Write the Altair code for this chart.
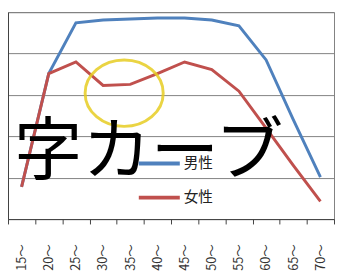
import altair as alt
import pandas as pd

ages = ["15～", "20～", "25～", "30～", "35～", "40～", "45～", "50～", "55～", "60～", "65～", "70～"]
male = [15.6, 70.3, 94.8, 96.2, 96.7, 97.2, 97.2, 96.2, 93.4, 76.9, 48.1, 20.3]
female = [15.6, 70.3, 75.9, 64.6, 65.1, 70.3, 75.9, 72.2, 61.8, 43.9, 25.9, 8.5]
series = ["男性", "女性"]
colors = ["#4F81BD", "#C0504D"]
y_ticks = [0, 20, 40, 60, 80, 100]
big_text = ["M字カーブ"]

df = pd.DataFrame({
    "age": ages * 2,
    "rate": male + female,
    "sex": [series[0]] * len(ages) + [series[1]] * len(ages),
})

JP = "Noto Sans CJK JP"

x = alt.X(
    "age:N", sort=ages,
    scale=alt.Scale(type="band", paddingInner=0, paddingOuter=0),
    axis=alt.Axis(title=None, labelAngle=270, tickBand="extent", grid=False,
                  domainColor="#404040", tickColor="#404040", tickSize=5,
                  labelFontSize=13, labelFont=JP, labelColor="#333333",
                  labelPadding=20),
)
y = alt.Y(
    "rate:Q", scale=alt.Scale(domain=[0, 100], nice=False, zero=True),
    axis=alt.Axis(title=None, values=y_ticks, labels=False, ticks=False,
                  domainColor="#404040", gridColor="#808080"),
)
color = alt.Color(
    "sex:N", scale=alt.Scale(domain=series, range=colors),
    legend=alt.Legend(title=None, orient="none", legendX=132, legendY=132,
                      symbolType="stroke", symbolSize=1764, symbolStrokeWidth=4,
                      labelFontSize=15, labelFont=JP, labelColor="#222222",
                      labelOffset=2, rowPadding=4, padding=0),
)

base = alt.Chart(df)
male_line = base.transform_filter(alt.datum.sex == series[0]).mark_line(strokeWidth=3).encode(x=x, y=y, color=color)
female_line = base.transform_filter(alt.datum.sex == series[1]).mark_line(strokeWidth=3).encode(x=x, y=y, color=color)

ellipse_shape = "M -1 0 A 1 0.85 0 1 1 1 0 A 1 0.85 0 1 1 -1 0 Z"
ellipse = alt.Chart(pd.DataFrame({"k": [0]})).mark_point(
    shape=ellipse_shape, size=6400, filled=False, stroke="#E6CC22",
    strokeWidth=3, strokeOpacity=0.85, opacity=1,
).encode(x=alt.value(119), y=alt.value(83))

label = alt.Chart(pd.DataFrame({"t": big_text})).mark_text(
    fontSize=70, font=JP, align="right", baseline="alphabetic", color="black",
).encode(text="t:N", x=alt.value(282), y=alt.value(166))

chart = alt.layer(male_line, female_line, ellipse, label).properties(
    width=334, height=212,
    padding={"left": 0, "top": 1, "right": 1, "bottom": 52},
    autosize=alt.AutoSizeParams(type="none"),
).configure_view(stroke="#808080", strokeWidth=1)

chart.save("out.html", embed_options={"renderer": "svg", "actions": False})
